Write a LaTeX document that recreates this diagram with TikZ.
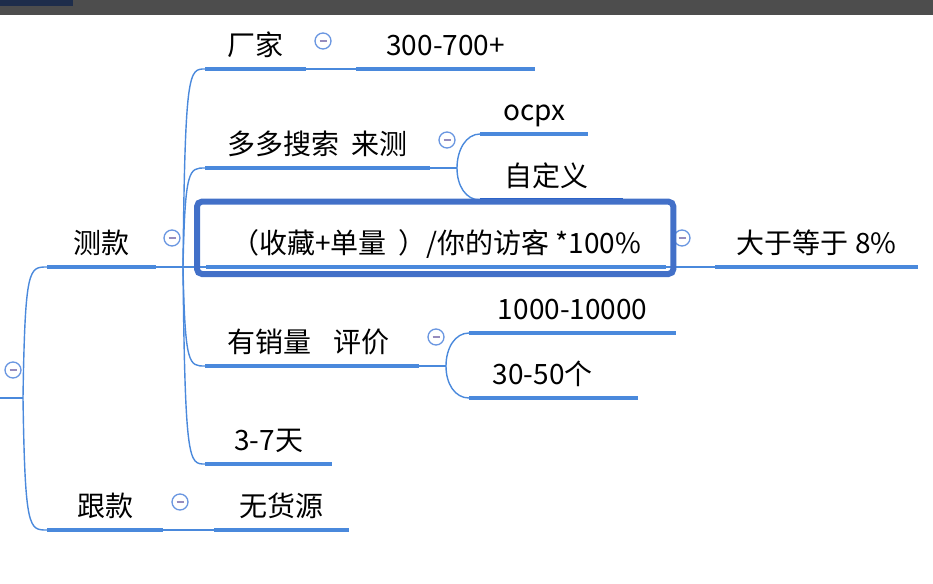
\documentclass[tikz,border=0pt]{standalone}
\usepackage{fontspec}
\usepackage{xcolor}
\usepackage{tikz}
\usetikzlibrary{calc}
\newfontfamily\cjk{Noto Sans CJK SC}
\definecolor{lineblue}{RGB}{74,137,220}
\definecolor{boxblue}{RGB}{66,112,200}
\definecolor{selblue}{RGB}{32,92,200}
\definecolor{foldblue}{RGB}{105,150,225}
\definecolor{foldmark}{RGB}{150,140,190}
\definecolor{bargray}{RGB}{77,77,77}
\definecolor{barnavy}{RGB}{30,45,75}
\tikzstyle{link} = [lineblue, line width=1.4pt]
\tikzstyle{uline} = [lineblue, line width=4.5pt]
\tikzstyle{topic} = [anchor=south west, inner sep=0pt, minimum height=40pt, text height=20pt, text depth=6pt, font=\cjk\fontsize{28}{31}\selectfont]
\tikzstyle{fold} = [circle, draw=foldblue, fill=white, line width=1.3pt, minimum size=16pt, inner sep=0pt,
  path picture={\draw[foldmark, line width=1.2pt] ([xshift=-3.5pt]path picture bounding box.center) -- ([xshift=3.5pt]path picture bounding box.center);}]

\begin{document}
\begin{tikzpicture}[x=1pt, y=-1pt]
\useasboundingbox (0,0) rectangle (933,583);
% Window bar
\fill[bargray] (0,0) rectangle (933,15);
\fill[barnavy] (0,0) rectangle (73,6);

% Topics
\node (ce) [topic, minimum width=109pt] at (47,267) {测款};
\node (gen) [topic, minimum width=116pt] at (47,530) {跟款};
\node (factory) [topic, minimum width=101pt] at (205,69) {厂家};
\node (price) [topic, minimum width=179pt] at (356,69) {300-700+};
\node (search) [topic, minimum width=225pt] at (205,168) {多多搜索\hspace{12pt}来测};
\node (ocpx) [topic, minimum width=108pt] at (480,134) {ocpx};
\node (custom) [topic, minimum width=143pt] at (480,200) {自定义\kern10pt};
\node (formula) [topic, minimum width=460pt] at (206,267) {（收藏+单量\hspace{12pt}）/你的访客 *100\%};
\node (ratio) [topic, minimum width=203pt] at (715,267) {大于等于 8\%};
\node (sales) [topic, minimum width=214pt] at (205,366) {有销量\hspace{22pt}评价\kern8pt};
\node (volume) [topic, minimum width=207pt] at (469,333) {1000-10000};
\node (reviews) [topic, minimum width=169pt] at (469,398) {30-50个\kern22pt};
\node (days) [topic, minimum width=127pt] at (205,464) {3-7天};
\node (nosrc) [topic, minimum width=135pt] at (214,530) {无货源};

\foreach \n in {ce, gen, factory, price, search, ocpx, formula, ratio, sales, volume, reviews, days, nosrc}
  \draw[uline] (\n.south west) -- (\n.south east);
\draw[uline, selblue] (custom.south west) -- (custom.south east);

% Junctions
\coordinate (rootin) at (0,398);
\coordinate (rootj) at (23,398);
\coordinate (cej) at (183,267);
\coordinate (searchj) at (457,168);
\coordinate (salesj) at (446,366);

% Connectors
\draw[link] (rootin) -- (rootj);
\foreach \n in {ce, gen}
  \draw[link] (rootj) .. controls ($(rootj |- \n.south)+(2,0)$) and ($(rootj |- \n.south)+(6,0)$) .. (\n.south west);
\draw[link] (ce.south east) -- (cej) -- (formula.south west);
\foreach \n in {factory, search, sales, days}
  \draw[link] (cej) .. controls ($(cej |- \n.south)+(2,0)$) and ($(cej |- \n.south)+(6,0)$) .. (\n.south west);
\draw[link] (factory.south east) -- (price.south west);
\draw[link] (search.south east) -- (searchj);
\draw[link] (searchj) .. controls ($(searchj)+(0,-18)$) and ($(searchj |- ocpx.south)+(9,0)$) .. (ocpx.south west);
\draw[link] (searchj) .. controls ($(searchj)+(0,18)$) and ($(searchj |- custom.south)+(9,0)$) .. (custom.south west);
\draw[link] (formula.south east) -- (ratio.south west);
\draw[link] (sales.south east) -- (salesj);
\draw[link] (salesj) .. controls ($(salesj)+(0,-18)$) and ($(salesj |- volume.south)+(9,0)$) .. (volume.south west);
\draw[link] (salesj) .. controls ($(salesj)+(0,18)$) and ($(salesj |- reviews.south)+(9,0)$) .. (reviews.south west);
\draw[link] (gen.south east) -- (nosrc.south west);

% Fold buttons
\node (froot) [fold] at (13,370) {};
\node (fce) [fold] at (172,238) {};
\node (ffactory) [fold] at (323,41) {};
\node (fsearch) [fold] at (447,140) {};
\node (fformula) [fold] at (682,238) {};
\node (fsales) [fold] at (436,337) {};
\node (fgen) [fold] at (180,502) {};

% Selection frame
\draw[boxblue, line width=6pt, rounded corners=5pt] ($(formula.south west)+(-9,7)$) rectangle ($(formula.north east)+(7,-25)$);
\end{tikzpicture}
\end{document}
